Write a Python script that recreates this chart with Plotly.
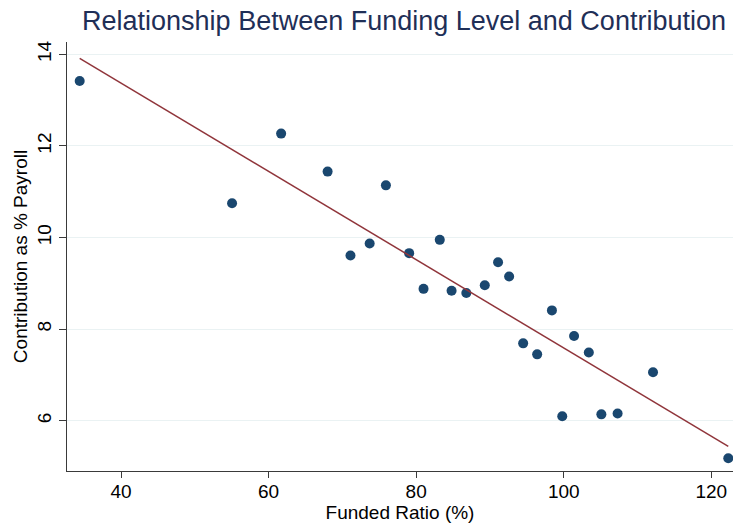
import numpy as np
import plotly.graph_objects as go

# Funded ratio (%) and employer contribution as % of payroll
funded_ratio = [34.4, 55.05, 61.7, 68.0, 75.9, 71.1, 73.7, 79.05, 83.2, 81.0,
                84.8, 86.8, 89.3, 91.1, 92.6, 98.4, 94.5, 96.4, 101.4, 103.4,
                99.8, 105.1, 107.3, 112.1, 122.3]
contribution = [13.42, 10.75, 12.27, 11.44, 11.14, 9.61, 9.87, 9.66, 9.95, 8.88,
                 8.84, 8.79, 8.96, 9.46, 9.15, 8.41, 7.69, 7.45, 7.85, 7.49,
                 6.10, 6.14, 6.16, 7.06, 5.18]

x_ticks = [40, 60, 80, 100, 120]
y_ticks = [6, 8, 10, 12, 14]

# Linear fit over the observed range
slope, intercept = np.polyfit(funded_ratio, contribution, 1)
fit_x = [min(funded_ratio), max(funded_ratio)]
fit_y = [intercept + slope * v for v in fit_x]

NAVY = "#1a476f"
MAROON = "#90353b"
FONT = "Liberation Sans, Arial, Helvetica, sans-serif"

fig = go.Figure()
fig.add_trace(go.Scatter(
    x=funded_ratio, y=contribution, mode="markers",
    marker=dict(color=NAVY, size=10, line=dict(width=0)),
    showlegend=False, hoverinfo="x+y",
))
fig.add_trace(go.Scatter(
    x=fit_x, y=fit_y, mode="lines",
    line=dict(color=MAROON, width=1.5),
    showlegend=False, hoverinfo="skip",
))

fig.update_layout(
    width=735, height=525,
    margin=dict(l=67, r=2, t=42, b=54),
    paper_bgcolor="white", plot_bgcolor="white",
    font=dict(family=FONT, color="black", size=19),
    title=dict(
        text="Relationship Between Funding Level and Contribution",
        x=404 / 735, xanchor="center",
        y=1 - 21 / 525, yanchor="middle",
        font=dict(family=FONT, size=27, color="#1f2f57"),
    ),
    xaxis=dict(
        range=[32.68, 122.94], tickvals=x_ticks, ticktext=[str(v) for v in x_ticks],
        showgrid=False, zeroline=False,
        showline=True, linecolor="#3a3a3a", linewidth=1.2,
        ticks="outside", ticklen=6, tickcolor="#3a3a3a", tickwidth=1.2,
        ticklabelstandoff=-3,
        tickfont=dict(size=19, color="black"),
        title=dict(text="Funded Ratio (%)", font=dict(size=19, color="black"), standoff=0),
    ),
    yaxis=dict(
        range=[4.903, 14.27], tickvals=y_ticks, ticktext=[str(v) for v in y_ticks],
        showgrid=True, gridcolor="#eaf2f3", gridwidth=1.2,
        zeroline=False,
        showline=True, linecolor="#3a3a3a", linewidth=1.2,
        ticks="outside", ticklen=7, tickcolor="#3a3a3a", tickwidth=1.2,
        tickangle=-90,
        tickfont=dict(size=19, color="black"),
        title=dict(text="Contribution as % Payroll", font=dict(size=19, color="black"), standoff=1),
    ),
)

fig.write_html("out.html")
